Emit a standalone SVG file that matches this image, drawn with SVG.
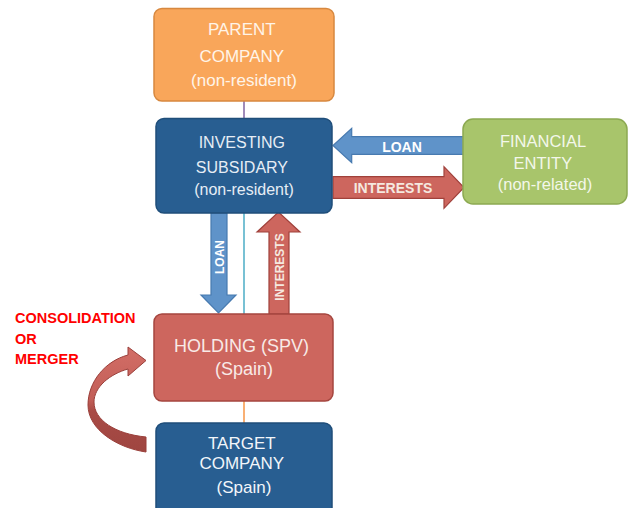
<svg xmlns="http://www.w3.org/2000/svg" width="629" height="508" viewBox="0 0 629 508">
  <defs>
    <linearGradient id="curveShade" x1="0" y1="345" x2="0" y2="455" gradientUnits="userSpaceOnUse">
      <stop offset="0" stop-color="#D36E67"/>
      <stop offset="0.5" stop-color="#C25E57"/>
      <stop offset="0.6" stop-color="#A94B46"/>
      <stop offset="1" stop-color="#9E4540"/>
    </linearGradient>
  </defs>
  <style>
    .box { stroke-width: 1.5; }
    .orange { fill: #F9A65A; stroke: #D7883F; }
    .navy { fill: #285E91; stroke: #1F4E7A; }
    .green { fill: #A8C56B; stroke: #8CA951; }
    .red { fill: #CD665E; stroke: #A5463F; }
    .label { font-family: "Liberation Sans", Arial, sans-serif; text-anchor: middle; }
    .arrow-blue { fill: #5F93C9; stroke: #477AB0; stroke-width: 1.2; }
    .arrow-red { fill: #CD665E; stroke: #A0413B; stroke-width: 1.2; }
    .tag { font-family: "Liberation Sans", Arial, sans-serif; font-weight: bold; text-anchor: middle; }
    .link { fill: none; stroke-width: 1.5; }
  </style>

  <rect width="629" height="508" fill="#FFFFFF"/>

  <!-- connectors -->
  <g id="connectors">
    <line class="link" x1="244" y1="101" x2="244" y2="118" stroke="#8064A2"/>
    <line class="link" x1="244" y1="213" x2="244" y2="314" stroke="#4BACC6"/>
    <line class="link" x1="244" y1="401" x2="244" y2="423" stroke="#F79646"/>

    <!-- loan from financial entity to investing subsidiary -->
    <g id="loan-h">
      <path class="arrow-blue" d="M464,136.7 L351.7,136.7 L351.7,128.3 L333,145.5 L351.7,162.7 L351.7,154.3 L464,154.3 Z"/>
      <text class="tag" x="402" y="152" font-size="14" fill="#FFFFFF">LOAN</text>
    </g>

    <!-- interests to financial entity -->
    <g id="interests-h">
      <path class="arrow-red" d="M333,176.7 L444,176.7 L444,166.7 L464,187.5 L444,208.3 L444,198.3 L333,198.3 Z"/>
      <text class="tag" x="393" y="193" font-size="14" fill="#F5E9E0">INTERESTS</text>
    </g>

    <!-- loan down to holding -->
    <g id="loan-v">
      <path class="arrow-blue" d="M211,213 L227,213 L227,295 L236,295 L218.5,313 L201,295 L211,295 Z"/>
      <text class="tag" transform="translate(223.5,257) rotate(-90)" font-size="12" fill="#FFFFFF">LOAN</text>
    </g>

    <!-- interests up from holding -->
    <g id="interests-v">
      <path class="arrow-red" d="M269,314 L269,232 L257,232 L278.5,212 L300,232 L289,232 L289,314 Z"/>
      <text class="tag" transform="translate(283.5,267) rotate(-90)" font-size="12" fill="#F5E9E0">INTERESTS</text>
    </g>

    <!-- consolidation / merger curved arrow -->
    <g id="merge-arrow">
      <path d="M146,452 C118,448 88,430 88,405 C88,382 105,361 128,355 L128,347 L146,360.5 L128,376 L128,369 C110,374 94,387 94,402 C94,420 115,434 146,437 Z" fill="url(#curveShade)" stroke="#9A3F3A" stroke-width="1"/>
    </g>
  </g>

  <g id="parent-company">
    <rect class="box orange" x="154" y="8.5" width="180" height="92.5" rx="8"/>
    <text class="label" font-size="17" fill="#FFF4E8">
      <tspan x="244" y="35">PARENT</tspan>
      <tspan x="244" y="62">COMPANY</tspan>
      <tspan x="244" y="86">(non-resident)</tspan>
    </text>
  </g>

  <g id="investing-subsidiary">
    <rect class="box navy" x="156" y="118.5" width="176" height="94.5" rx="8"/>
    <text class="label" font-size="16" fill="#E6EDF5">
      <tspan x="244" y="148">INVESTING</tspan>
      <tspan x="244" y="173">SUBSIDARY</tspan>
      <tspan x="244" y="195">(non-resident)</tspan>
    </text>
  </g>

  <g id="financial-entity">
    <rect class="box green" x="463" y="119" width="164" height="85" rx="10"/>
    <text class="label" font-size="16.5" fill="#F3F7EA">
      <tspan x="545" y="147">FINANCIAL</tspan>
      <tspan x="545" y="169">ENTITY</tspan>
      <tspan x="545" y="190">(non-related)</tspan>
    </text>
  </g>

  <g id="holding-spv">
    <rect class="box red" x="154" y="314" width="179" height="87" rx="8"/>
    <text class="label" font-size="18" fill="#F8EAE7">
      <tspan x="244" y="352">HOLDING (SPV)</tspan>
      <tspan x="244" y="375">(Spain)</tspan>
    </text>
  </g>

  <g id="target-company">
    <rect class="box navy" x="156" y="423" width="176" height="100" rx="8"/>
    <text class="label" font-size="17" fill="#F2F6FA">
      <tspan x="244" y="449">TARGET</tspan>
      <tspan x="244" y="469">COMPANY</tspan>
      <tspan x="244" y="493">(Spain)</tspan>
    </text>
  </g>

  <g id="consolidation-note">
    <text font-family="'Liberation Sans', Arial, sans-serif" font-weight="bold" font-size="14.5" fill="#FF0000">
      <tspan x="15" y="323">CONSOLIDATION</tspan>
      <tspan x="15" y="344">OR</tspan>
      <tspan x="15" y="364">MERGER</tspan>
    </text>
  </g>
</svg>
